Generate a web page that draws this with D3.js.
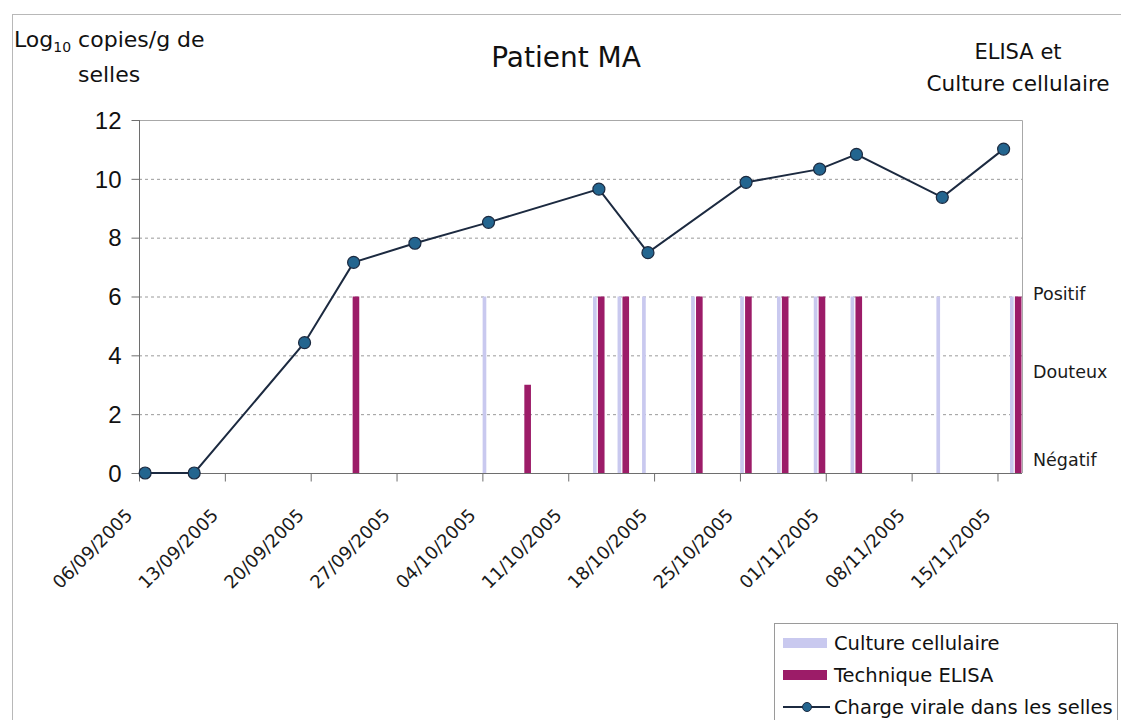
<!DOCTYPE html>
<html>
<head>
<meta charset="utf-8">
<script src="https://cdn.jsdelivr.net/npm/d3@7"></script>
<style>
  html, body { margin: 0; padding: 0; background: #fff; }
  svg { display: block; }
</style>
</head>
<body>
<svg id="chart" width="1121" height="720"></svg>
<script>
// ---------- data ----------
const loadDates  = ["2005-09-06","2005-09-10","2005-09-19","2005-09-23","2005-09-28","2005-10-04","2005-10-13","2005-10-17","2005-10-25","2005-10-31","2005-11-03","2005-11-10","2005-11-15"];
const loadValues = [0, 0, 4.43, 7.16, 7.81, 8.52, 9.65, 7.49, 9.88, 10.33, 10.83, 9.37, 11.01];

const testDates     = ["2005-09-23","2005-10-04","2005-10-07","2005-10-13","2005-10-15","2005-10-17","2005-10-21","2005-10-25","2005-10-28","2005-10-31","2005-11-03","2005-11-10","2005-11-16"];
const cultureValues = [0, 6, 0, 6, 6, 6, 6, 6, 6, 6, 6, 6, 6];
const elisaValues   = [6, 0, 3, 6, 6, 0, 6, 6, 6, 6, 6, 0, 6];

const xTickDates  = ["2005-09-06","2005-09-13","2005-09-20","2005-09-27","2005-10-04","2005-10-11","2005-10-18","2005-10-25","2005-11-01","2005-11-08","2005-11-15"];
const yTicks      = [0, 2, 4, 6, 8, 10, 12];
const resultLabels = [{label: "Positif", v: 6}, {label: "Douteux", v: 3.5}, {label: "Négatif", v: 0.5}];
const legendItems = ["Culture cellulaire", "Technique ELISA", "Charge virale dans les selles"];

// ---------- setup ----------
(function () {
const parse = d3.utcParse("%Y-%m-%d");
const fmt = d3.utcFormat("%d/%m/%Y");
const svg = d3.select("#chart");
const FONT = "'DejaVu Sans', Verdana, sans-serif";

const pL = 139, pR = 1022, pT = 120, pB = 473;
const x = d3.scaleUtc().domain([parse("2005-09-06"), parse("2005-11-17")]).range([pL, pR]);
const y = d3.scaleLinear().domain([0, 12]).range([pB, pT]);
const dayW = x(parse("2005-09-07")) - x(parse("2005-09-06"));

const C_CULT = "#c9c9ef", C_ELISA = "#9c1c68", C_LINE = "#1c2a40", C_MARK = "#23658f";

// outer frame
svg.append("rect").attr("x", 12.5).attr("y", 14.5).attr("width", 1130).attr("height", 730)
  .attr("fill", "none").attr("stroke", "#b8b8b8");

// gridlines
svg.append("g").selectAll("line").data(yTicks.filter(v => v > 0 && v < 12)).join("line")
  .attr("x1", pL).attr("x2", pR).attr("y1", d => y(d) + 0.5).attr("y2", d => y(d) + 0.5)
  .attr("stroke", "#9a9a9a").attr("stroke-width", 1).attr("stroke-dasharray", "3,3");

// plot border (top, right)
svg.append("path")
  .attr("d", `M${pL},${y(12) + 0.5}H${pR + 0.5}V${pB}`)
  .attr("fill", "none").attr("stroke", "#a8a8a8");

// bars
const tests = testDates.map((d, i) => ({date: parse(d), c: cultureValues[i], e: elisaValues[i]}));
svg.append("g").selectAll("rect").data(tests.filter(d => d.c > 0)).join("rect")
  .attr("x", d => x(d.date) + dayW * 0.02).attr("width", dayW * 0.3)
  .attr("y", d => y(d.c)).attr("height", d => y(0) - y(d.c))
  .attr("fill", C_CULT);
svg.append("g").selectAll("rect").data(tests.filter(d => d.e > 0)).join("rect")
  .attr("x", d => x(d.date) + dayW * 0.42).attr("width", dayW * 0.54)
  .attr("y", d => y(d.e)).attr("height", d => y(0) - y(d.e))
  .attr("fill", C_ELISA);

// y axis
const yAxis = svg.append("g").attr("transform", `translate(${pL + 0.5},0)`)
  .call(d3.axisLeft(y).tickValues(yTicks).tickSize(8).tickPadding(10).tickFormat(d3.format("d")));
yAxis.select(".domain").attr("stroke", "#6e6e6e").attr("d", `M0,${pT}V${pB}`);
yAxis.selectAll(".tick line").attr("stroke", "#6e6e6e");
yAxis.selectAll(".tick text").attr("font-family", "'Liberation Sans', Arial, sans-serif")
  .attr("font-size", 24).attr("fill", "#111").attr("dy", "0.34em");

// x axis
const xAxis = svg.append("g").attr("transform", `translate(0,${pB + 0.5})`)
  .call(d3.axisBottom(x).tickValues(xTickDates.map(parse)).tickSize(8).tickFormat(""));
xAxis.select(".domain").attr("stroke", "#6e6e6e").attr("d", `M${pL},0H${pR}`);
xAxis.selectAll(".tick line").attr("stroke", "#6e6e6e");
xAxis.selectAll(".tick").append("text")
  .attr("text-anchor", "end")
  .attr("transform", "translate(-6,43) rotate(-45)")
  .attr("font-family", FONT).attr("font-size", 18).attr("fill", "#1a1a1a")
  .text(d => fmt(d));

// viral load line
const pts = loadDates.map((d, i) => ({date: parse(d), v: loadValues[i]}));
const cx = d => x(d.date) + dayW / 2;
svg.append("path").datum(pts)
  .attr("d", d3.line().x(cx).y(d => y(d.v)))
  .attr("fill", "none").attr("stroke", C_LINE).attr("stroke-width", 2);
svg.append("g").selectAll("circle").data(pts).join("circle")
  .attr("cx", cx).attr("cy", d => y(d.v)).attr("r", 6)
  .attr("fill", C_MARK).attr("stroke", C_LINE).attr("stroke-width", 1.2);

// right result labels
svg.append("g").selectAll("text").data(resultLabels).join("text")
  .attr("x", 1033).attr("y", d => y(d.v)).attr("dy", d => d.v === 6 ? "0.2em" : "0.45em")
  .attr("font-family", FONT).attr("font-size", 17.5).attr("fill", "#1a1a1a")
  .text(d => d.label);

// titles
svg.append("text").attr("x", 566).attr("y", 67).attr("text-anchor", "middle")
  .attr("font-family", FONT).attr("font-size", 28).attr("fill", "#111").text("Patient MA");

const ylab = svg.append("text").attr("x", 14).attr("y", 47)
  .attr("font-family", FONT).attr("font-size", 22).attr("fill", "#111");
ylab.append("tspan").text("Log");
ylab.append("tspan").attr("font-size", 14).attr("dy", 5).text("10");
ylab.append("tspan").attr("dy", -5).text(" copies/g de");
svg.append("text").attr("x", 78).attr("y", 82)
  .attr("font-family", FONT).attr("font-size", 22).attr("fill", "#111").text("selles");

svg.append("text").attr("x", 1018).attr("y", 59).attr("text-anchor", "middle")
  .attr("font-family", FONT).attr("font-size", 21).attr("fill", "#111").text("ELISA et");
svg.append("text").attr("x", 1018).attr("y", 91).attr("text-anchor", "middle")
  .attr("font-family", FONT).attr("font-size", 21.6).attr("fill", "#111").text("Culture cellulaire");

// legend
const lg = svg.append("g");
lg.append("rect").attr("x", 774.5).attr("y", 623.5).attr("width", 343).attr("height", 120)
  .attr("fill", "#fff").attr("stroke", "#9a9a9a");
const rowY = i => 643 + i * 32;
lg.append("rect").attr("x", 783).attr("y", rowY(0) - 5).attr("width", 44).attr("height", 10).attr("fill", C_CULT);
lg.append("rect").attr("x", 783).attr("y", rowY(1) - 5).attr("width", 44).attr("height", 10).attr("fill", C_ELISA);
lg.append("line").attr("x1", 783).attr("x2", 830).attr("y1", rowY(2)).attr("y2", rowY(2))
  .attr("stroke", C_LINE).attr("stroke-width", 2);
lg.append("circle").attr("cx", 807).attr("cy", rowY(2)).attr("r", 4.5)
  .attr("fill", C_MARK).attr("stroke", C_LINE).attr("stroke-width", 1);
lg.selectAll("text.item").data(legendItems).join("text").attr("class", "item")
  .attr("x", 834).attr("y", (d, i) => rowY(i)).attr("dy", "0.35em")
  .attr("font-family", FONT).attr("font-size", 19.5).attr("fill", "#111")
  .text(d => d);
})();
</script>
</body>
</html>
